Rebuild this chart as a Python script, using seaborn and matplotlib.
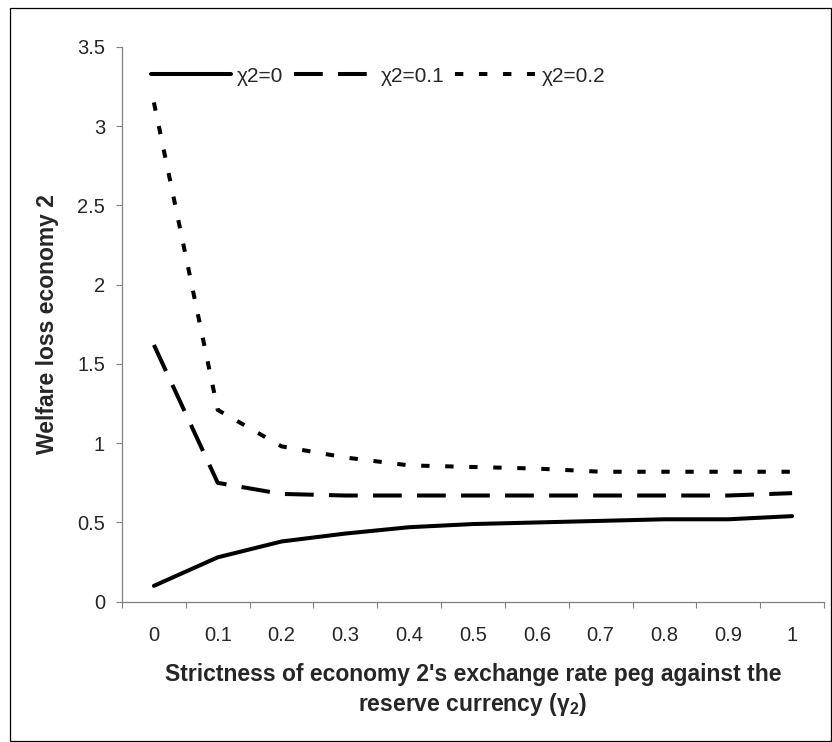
import numpy as np
import pandas as pd
import matplotlib
matplotlib.use("Agg")
import matplotlib.pyplot as plt
from matplotlib.ticker import FuncFormatter
from matplotlib.patches import Rectangle
import seaborn as sns

# ---- data ----
categories = ["0", "0.1", "0.2", "0.3", "0.4", "0.5", "0.6", "0.7", "0.8", "0.9", "1"]
chi_0 = [0.10, 0.28, 0.38, 0.43, 0.47, 0.49, 0.50, 0.51, 0.52, 0.52, 0.54]
chi_01 = [1.62, 0.75, 0.68, 0.67, 0.67, 0.67, 0.67, 0.67, 0.67, 0.67, 0.685]
chi_02 = [3.15, 1.21, 0.98, 0.91, 0.86, 0.85, 0.84, 0.82, 0.82, 0.82, 0.82]
series_labels = ["χ2=0", "χ2=0.1", "χ2=0.2"]
y_ticks = [0, 0.5, 1, 1.5, 2, 2.5, 3, 3.5]

sns.set_style("white")
plt.rcParams["font.family"] = ["Liberation Sans", "DejaVu Sans"]
plt.rcParams["lines.scale_dashes"] = False
plt.rcParams["mathtext.fontset"] = "custom"
plt.rcParams["mathtext.rm"] = "Liberation Sans"
plt.rcParams["mathtext.bf"] = "Liberation Sans:bold"

W, H = 832, 742
fig = plt.figure(figsize=(W / 100, H / 100), dpi=100)
ax = fig.add_axes([122 / W, (H - 601.7) / H, 702 / W, 554.7 / H])

pos = np.arange(len(categories))
styles = [
    dict(linestyle="-", solid_capstyle="round"),
    dict(linestyle=(0, (20.7, 11.0)), dash_capstyle="butt"),
    dict(linestyle=(0, (6.0, 11.3)), dash_capstyle="butt"),
]
for vals, lab, st in zip([chi_0, chi_01, chi_02], series_labels, styles):
    df = pd.DataFrame({"pos": pos, "value": vals})
    sns.lineplot(data=df, x="pos", y="value", ax=ax, color="black",
                 linewidth=2.9, errorbar=None, label=lab, **st)

gray = "#808080"
ax.set_xlim(-0.5, len(categories) - 0.5)
ax.set_ylim(0, 3.5)
ax.set_yticks(y_ticks)
ax.yaxis.set_major_formatter(FuncFormatter(lambda v, p: f"{v:g}"))
ax.set_xticks(np.arange(-0.5, len(categories), 1.0))
ax.set_xticklabels([])
ax.set_xticks(pos, minor=True)
ax.set_xticklabels(categories, minor=True)
ax.tick_params(axis="x", which="major", bottom=True, length=4.3, width=0.8,
               color=gray, direction="out")
ax.tick_params(axis="x", which="minor", bottom=True, length=0, pad=17.4,
               labelsize=14.5)
ax.tick_params(axis="y", which="major", left=True, length=4.3, width=0.8,
               color=gray, direction="out", pad=7.9, labelsize=14.5)
for s in ["top", "right"]:
    ax.spines[s].set_visible(False)
for s in ["left", "bottom"]:
    ax.spines[s].set_color(gray)
    ax.spines[s].set_linewidth(0.9)
ax.grid(False)

ax.set_xlabel("Strictness of economy 2's exchange rate peg against the\n"
              "reserve currency (γ$_{\\mathbf{2}}$)",
              fontsize=16.5, fontweight="bold", linespacing=1.25)
ax.xaxis.set_label_coords(0.5, (601.7 - 663) / 554.7)
ax.set_ylabel("Welfare loss economy 2", fontsize=16.5, fontweight="bold", va="center")
ax.yaxis.set_label_coords((47.5 - 122) / 702, 0.5)

handles, labels = ax.get_legend_handles_labels()
ax.legend(handles, labels, ncol=3, frameon=False, fontsize=15,
          loc="center left", bbox_to_anchor=(150.5 / W, 1 - 76 / H),
          bbox_transform=fig.transFigure, borderpad=0, borderaxespad=0,
          handlelength=3.86, handletextpad=0.3, columnspacing=0.5)

fig.patches.append(Rectangle((9.5 / W, 1.5 / H), 821 / W, 733 / H,
                             transform=fig.transFigure, fill=False,
                             edgecolor="black", linewidth=0.9))

fig.savefig("out.png", dpi=100)
